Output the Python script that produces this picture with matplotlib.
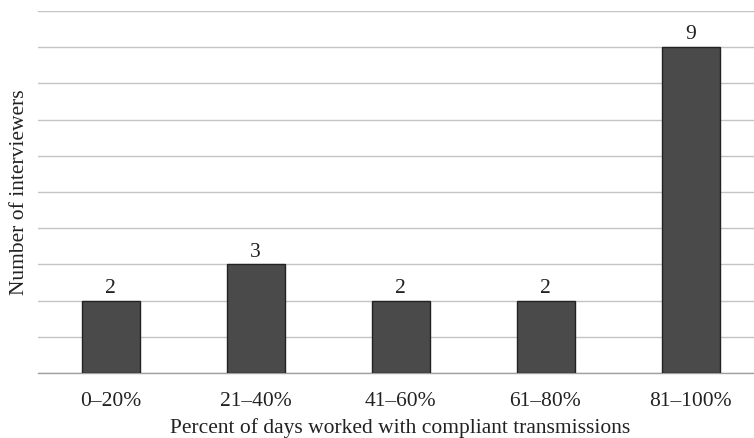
import matplotlib
matplotlib.use('Agg')
from matplotlib import pyplot as plt

# 区间与人数
categories = ['0–20%', '21–40%', '41–60%', '61–80%', '81–100%']
counts = [2, 3, 2, 2, 9]

plt.rcParams['font.family'] = ['Liberation Serif', 'DejaVu Serif']
FS = 15.5

W, H = 754, 438
fig = plt.figure(figsize=(W / 100, H / 100), dpi=100)
ax = fig.add_axes([38 / W, (H - 373) / H, 725 / W, 362 / H])

x = range(len(categories))
bars = ax.bar(x, counts, width=0.4, color='#4a4a4a', edgecolor='#222222', linewidth=1.0, zorder=3)
for b, v in zip(bars, counts):
    ax.text(b.get_x() + b.get_width() / 2, v + 0.08, str(v), ha='center', va='bottom',
            fontsize=FS, color='#222222')

ax.set_xlim(-0.5, 4.5)
ax.set_ylim(0, 10)
ax.set_yticks(range(0, 11))
ax.set_yticklabels([])
ax.tick_params(axis='y', length=0)
ax.set_xticks(list(x))
ax.set_xticklabels(categories, fontsize=FS, color='#222222')
ax.tick_params(axis='x', length=0, pad=13.5)
ax.grid(axis='y', color='#c4c4c4', linewidth=1.0, zorder=0)
for s in ['top', 'right', 'left']:
    ax.spines[s].set_visible(False)
ax.spines['bottom'].set_color('#a0a0a0')
ax.spines['bottom'].set_linewidth(1.0)

ax.set_xlabel('Percent of days worked with compliant transmissions', fontsize=FS, color='#222222', labelpad=5.5)
ax.set_ylabel('Number of interviewers', fontsize=FS, color='#222222', labelpad=3)

fig.savefig('out.png', dpi=100)
